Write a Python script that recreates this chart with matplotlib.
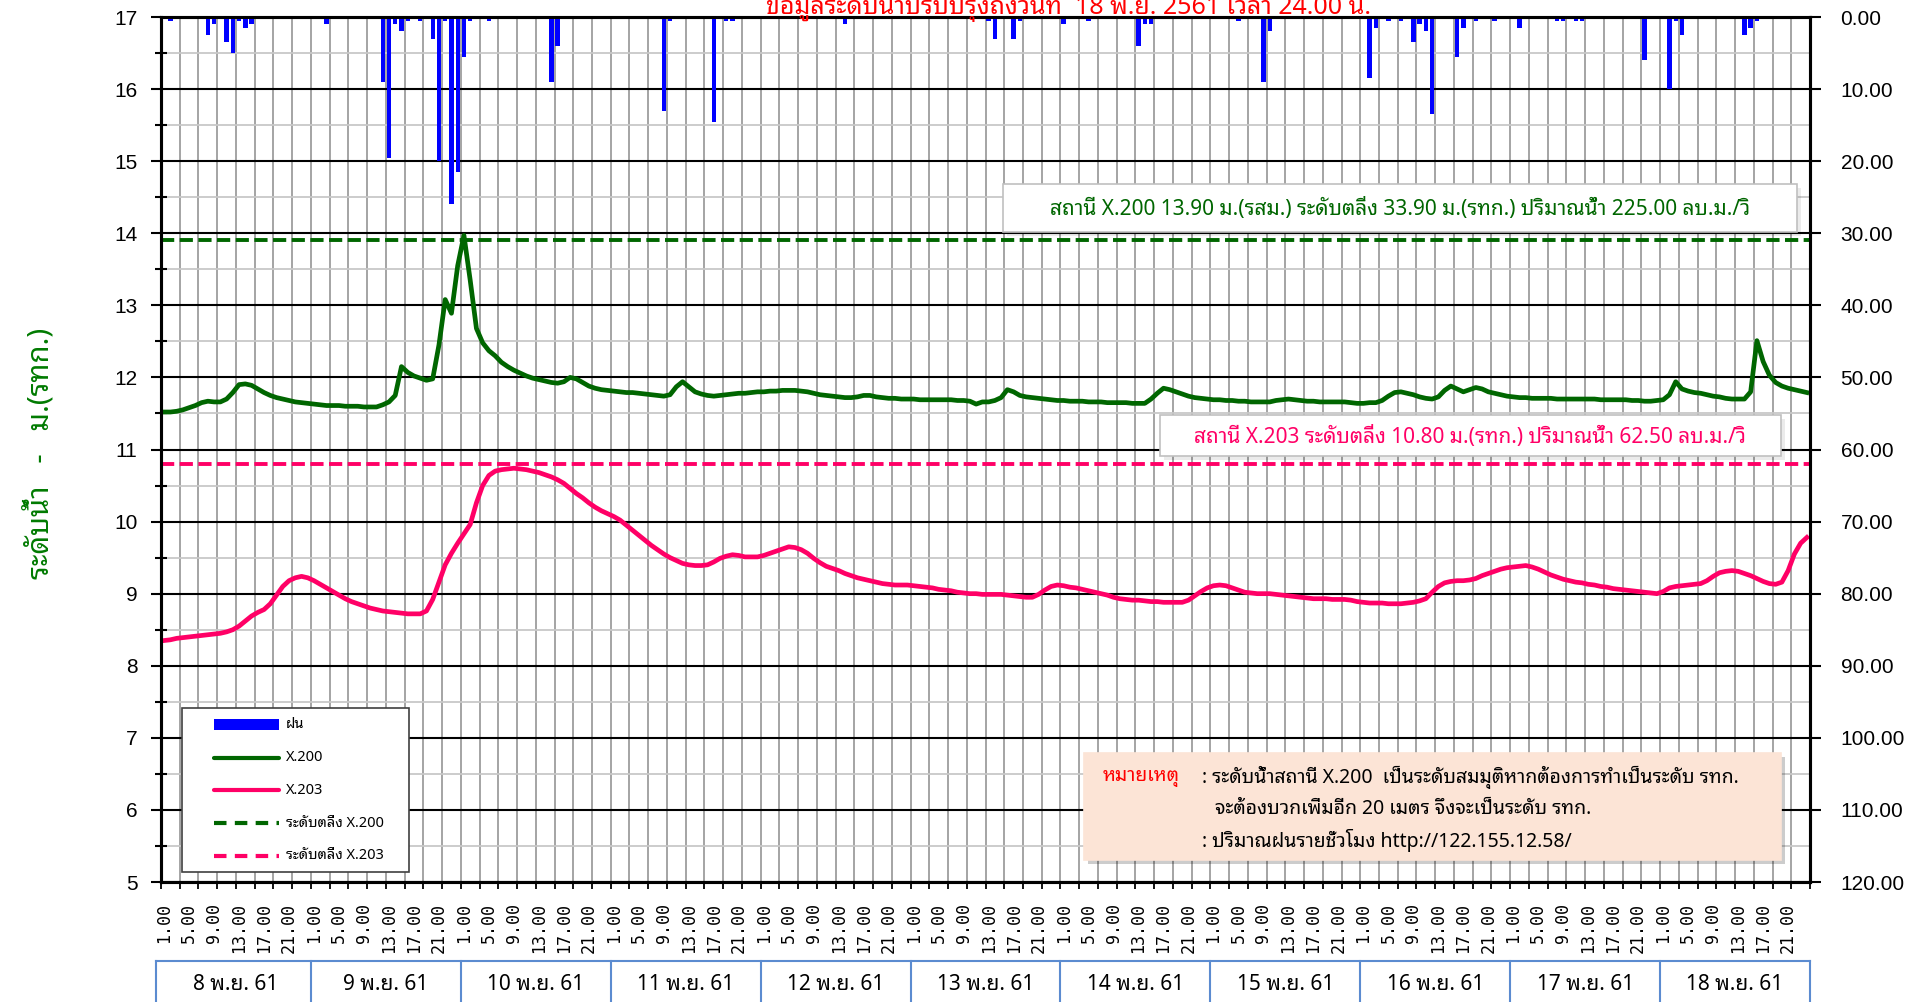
import numpy as np
import matplotlib.pyplot as plt
import matplotlib.transforms as mtransforms
from matplotlib import font_manager, ft2font
from matplotlib.patches import Rectangle
from matplotlib.lines import Line2D

W, H = 1923, 1002

# ---------------- data (hourly, 8-18 พ.ย. 61) ----------------
days = ['8 พ.ย. 61', '9 พ.ย. 61', '10 พ.ย. 61', '11 พ.ย. 61', '12 พ.ย. 61', '13 พ.ย. 61',
        '14 พ.ย. 61', '15 พ.ย. 61', '16 พ.ย. 61', '17 พ.ย. 61', '18 พ.ย. 61']
hour_labels = ['%d.00' % h for h in range(1, 25)] * len(days)

# ระดับน้ำ X.200 (ม.)
x200 = [
    11.52, 11.52, 11.53, 11.55, 11.58, 11.61, 11.65, 11.67, 11.66, 11.66, 11.70, 11.79,
    11.90, 11.91, 11.89, 11.84, 11.79, 11.75, 11.72, 11.70, 11.68, 11.66, 11.65, 11.64,
    11.63, 11.62, 11.61, 11.61, 11.61, 11.60, 11.60, 11.60, 11.59, 11.59, 11.59, 11.62,
    11.66, 11.75, 12.15, 12.07, 12.02, 11.99, 11.96, 11.98, 12.45, 13.08, 12.89, 13.55,
    13.97, 13.35, 12.68, 12.48, 12.37, 12.30, 12.21, 12.15, 12.10, 12.06, 12.02, 11.99,
    11.97, 11.95, 11.93, 11.92, 11.94, 12.00, 11.98, 11.93, 11.88, 11.85, 11.83, 11.82,
    11.81, 11.80, 11.79, 11.79, 11.78, 11.77, 11.76, 11.75, 11.74, 11.76, 11.87, 11.94,
    11.87, 11.80, 11.77, 11.75, 11.74, 11.75, 11.76, 11.77, 11.78, 11.78, 11.79, 11.80,
    11.80, 11.81, 11.81, 11.82, 11.82, 11.82, 11.81, 11.80, 11.78, 11.76, 11.75, 11.74,
    11.73, 11.72, 11.72, 11.73, 11.75, 11.75, 11.73, 11.72, 11.71, 11.71, 11.70, 11.70,
    11.70, 11.69, 11.69, 11.69, 11.69, 11.69, 11.69, 11.68, 11.68, 11.67, 11.63, 11.66,
    11.66, 11.68, 11.72, 11.83, 11.80, 11.75, 11.73, 11.72, 11.71, 11.70, 11.69, 11.68,
    11.68, 11.67, 11.67, 11.67, 11.66, 11.66, 11.66, 11.65, 11.65, 11.65, 11.65, 11.64,
    11.64, 11.64, 11.70, 11.78, 11.85, 11.83, 11.80, 11.77, 11.74, 11.72, 11.71, 11.70,
    11.69, 11.69, 11.68, 11.68, 11.67, 11.67, 11.66, 11.66, 11.66, 11.66, 11.68, 11.69,
    11.70, 11.69, 11.68, 11.67, 11.67, 11.66, 11.66, 11.66, 11.66, 11.66, 11.65, 11.64,
    11.64, 11.65, 11.65, 11.68, 11.74, 11.79, 11.80, 11.78, 11.76, 11.73, 11.71, 11.70,
    11.73, 11.82, 11.88, 11.84, 11.80, 11.83, 11.86, 11.84, 11.80, 11.78, 11.76, 11.74,
    11.73, 11.72, 11.72, 11.71, 11.71, 11.71, 11.71, 11.70, 11.70, 11.70, 11.70, 11.70,
    11.70, 11.70, 11.69, 11.69, 11.69, 11.69, 11.69, 11.68, 11.68, 11.67, 11.67, 11.68,
    11.69, 11.76, 11.94, 11.84, 11.81, 11.79, 11.78, 11.76, 11.74, 11.73, 11.71, 11.70,
    11.70, 11.70, 11.80, 12.51, 12.22, 12.03, 11.93, 11.88, 11.85, 11.83, 11.81, 11.79,
]

# ระดับน้ำ X.203 (ม.)
x203 = [
    8.35, 8.36, 8.38, 8.39, 8.40, 8.41, 8.42, 8.43, 8.44, 8.45, 8.47, 8.50,
    8.55, 8.62, 8.69, 8.74, 8.78, 8.86, 8.98, 9.10, 9.18, 9.22, 9.24, 9.22,
    9.18, 9.13, 9.08, 9.03, 8.98, 8.93, 8.89, 8.86, 8.83, 8.80, 8.78, 8.76,
    8.75, 8.74, 8.73, 8.72, 8.72, 8.72, 8.76, 8.92, 9.16, 9.40, 9.56, 9.70,
    9.83, 9.96, 10.26, 10.50, 10.64, 10.70, 10.72, 10.73, 10.74, 10.73, 10.72, 10.70,
    10.68, 10.65, 10.62, 10.58, 10.53, 10.46, 10.39, 10.33, 10.26, 10.20, 10.15, 10.11,
    10.07, 10.02, 9.95, 9.88, 9.81, 9.74, 9.67, 9.61, 9.55, 9.50, 9.46, 9.42,
    9.40, 9.39, 9.39, 9.40, 9.44, 9.49, 9.52, 9.54, 9.53, 9.51, 9.51, 9.51,
    9.53, 9.56, 9.59, 9.62, 9.65, 9.64, 9.61, 9.56, 9.49, 9.43, 9.38, 9.35,
    9.32, 9.28, 9.25, 9.22, 9.20, 9.18, 9.16, 9.14, 9.13, 9.12, 9.12, 9.12,
    9.11, 9.10, 9.09, 9.08, 9.06, 9.05, 9.04, 9.02, 9.01, 9.00, 9.00, 8.99,
    8.99, 8.99, 8.99, 8.98, 8.97, 8.96, 8.95, 8.95, 8.99, 9.05, 9.10, 9.12,
    9.11, 9.09, 9.08, 9.06, 9.04, 9.02, 9.00, 8.98, 8.95, 8.93, 8.92, 8.91,
    8.91, 8.90, 8.89, 8.89, 8.88, 8.88, 8.88, 8.88, 8.91, 8.97, 9.03, 9.08,
    9.11, 9.12, 9.11, 9.08, 9.05, 9.02, 9.01, 9.00, 9.00, 9.00, 8.99, 8.98,
    8.97, 8.96, 8.95, 8.94, 8.93, 8.93, 8.93, 8.92, 8.92, 8.92, 8.91, 8.89,
    8.88, 8.87, 8.87, 8.87, 8.86, 8.86, 8.86, 8.87, 8.88, 8.90, 8.93, 9.02,
    9.10, 9.15, 9.17, 9.18, 9.18, 9.19, 9.21, 9.25, 9.28, 9.31, 9.34, 9.36,
    9.37, 9.38, 9.39, 9.37, 9.34, 9.30, 9.26, 9.23, 9.20, 9.18, 9.16, 9.15,
    9.13, 9.12, 9.10, 9.09, 9.07, 9.06, 9.05, 9.04, 9.03, 9.02, 9.01, 9.00,
    9.03, 9.08, 9.10, 9.11, 9.12, 9.13, 9.14, 9.18, 9.24, 9.29, 9.31, 9.32,
    9.31, 9.28, 9.25, 9.21, 9.17, 9.14, 9.13, 9.16, 9.32, 9.55, 9.70, 9.78,
]

# ฝนรายชั่วโมง (มม.)
rain = [
    0, 0.5, 0, 0, 0, 0, 0, 2.5, 1.0, 0, 3.5, 5.0, 0.5, 1.5, 1.0, 0, 0, 0, 0, 0, 0, 0, 0, 0,
    0, 0, 1.0, 0, 0, 0, 0, 0, 0, 0, 0, 9.0, 19.5, 1.0, 2.0, 0.5, 0, 0.5, 0, 3.0, 20.0, 0.5, 26.0, 21.5,
    5.5, 0.5, 0, 0, 0.5, 0, 0, 0, 0, 0, 0, 0, 0, 0, 9.0, 4.0, 0, 0, 0, 0, 0, 0, 0, 0,
    0, 0, 0, 0, 0, 0, 0, 0, 13.0, 0.5, 0, 0, 0, 0, 0, 0, 14.5, 0, 0.5, 0.5, 0, 0, 0, 0,
    0, 0, 0, 0, 0, 0, 0, 0, 0, 0, 0, 0, 0, 1.0, 0, 0, 0, 0, 0, 0, 0, 0, 0, 0,
    0, 0, 0, 0, 0, 0, 0, 0, 0, 0, 0, 0, 0.5, 3.0, 0, 0, 3.0, 0.5, 0, 0, 0, 0, 0, 0,
    1.0, 0, 0, 0, 0.5, 0, 0, 0, 0, 0, 0, 0, 4.0, 1.0, 1.0, 0, 0, 0, 0, 0, 0, 0, 0, 0,
    0, 0, 0, 0, 0.5, 0, 0, 0, 9.0, 2.0, 0, 0, 0, 0, 0, 0, 0, 0, 0, 0, 0, 0, 0, 0,
    0, 8.5, 1.5, 0, 0.5, 0, 0.5, 0, 3.5, 1.0, 2.0, 13.5, 0, 0, 0, 5.5, 1.5, 0, 0.5, 0, 0, 0.5, 0, 0,
    0, 1.5, 0, 0, 0, 0, 0, 0.5, 0.5, 0, 0.5, 0.5, 0, 0, 0, 0, 0, 0, 0, 0, 0, 6.0, 0, 0,
    0, 10.0, 0.5, 2.5, 0, 0, 0, 0, 0, 0, 0, 0, 0, 2.5, 1.5, 0.5, 0, 0, 0, 0, 0, 0, 0, 0,
]

bank_x200 = 13.90
bank_x203 = 10.80

GREEN = '#006600'
PINK = '#ff0066'
BLUE = '#0000ff'


def thai_fonts():
    names = []
    for f in font_manager.fontManager.ttflist:
        try:
            if 0x0E01 in ft2font.FT2Font(f.fname).get_charmap():
                names.append(f.name)
        except Exception:
            pass
    return sorted(set(names))


found = thai_fonts()
if 'Noto Sans Thai Looped' in found:
    THAI = 'Noto Sans Thai Looped'
else:
    THAI = found[0] if found else 'DejaVu Sans'
plt.rcParams['font.family'] = [THAI, 'Noto Sans', 'DejaVu Sans']


def fx(px):
    return px / W


def fy(py):
    return 1 - py / H


def box(x0, y0, x1, y1, face, edge, shadow=0.15):
    if shadow:
        fig.add_artist(Rectangle((fx(x0 + 4), fy(y1 + 4)), (x1 - x0) / W, (y1 - y0) / H,
                                 transform=fig.transFigure, facecolor='black', alpha=shadow, lw=0))
    fig.add_artist(Rectangle((fx(x0), fy(y1)), (x1 - x0) / W, (y1 - y0) / H,
                             transform=fig.transFigure, facecolor=face, edgecolor=edge, lw=1.2))


fig = plt.figure(figsize=(W / 100, H / 100), dpi=100)
ax = fig.add_axes([fx(161), fy(882), (1810 - 161) / W, (882 - 17) / H])
hours = np.arange(len(x200))

ax.set_xlim(-0.5, len(hours) - 0.5)
ax.set_ylim(5, 17)
ax.set_yticks(np.arange(5, 18, 1))
ax.set_yticks(np.arange(5.5, 17, 1), minor=True)
ax.set_yticklabels([str(v) for v in range(5, 18)], family='Liberation Sans', fontsize=15)
ax.yaxis.grid(True, which='major', color='black', lw=1.5)
ax.yaxis.grid(True, which='minor', color='#c8c8c8', lw=1.3)
ax.set_xticks(hours[::4])
ax.set_xticklabels(hour_labels[::4], rotation=90, family='DejaVu Sans Mono', fontsize=12)
ax.set_xticks(np.arange(-0.5, len(hours), 3), minor=True)
ax.xaxis.grid(True, which='minor', color='#8c8c8c', lw=1.1)
ax.set_axisbelow(True)
ax.tick_params(axis='x', which='major', length=0, pad=15)
ax.tick_params(axis='x', which='minor', length=5, width=1.3, direction='out')
ax.tick_params(axis='y', which='major', length=7, width=1.5, direction='out', pad=10)
ax.tick_params(axis='y', which='minor', length=9, width=1.5, direction='inout')
for s in ax.spines.values():
    s.set_linewidth(2.2)

ax.plot(hours, x200, color=GREEN, lw=3.4, solid_joinstyle='round', zorder=4)
ax.plot(hours, x203, color=PINK, lw=3.4, solid_joinstyle='round', zorder=4)
ax.axhline(bank_x200, color=GREEN, lw=2.8, dashes=(3.4, 1.4), zorder=3)
ax.axhline(bank_x203, color=PINK, lw=2.8, dashes=(3.4, 1.4), zorder=3)

ax2 = ax.twinx()
ax2.set_ylim(120, 0)
ax2.set_yticks(np.arange(0, 121, 10))
ax2.set_yticklabels(['%.2f' % v for v in range(0, 121, 10)], family='Liberation Sans', fontsize=15)
ax2.tick_params(axis='y', length=8, width=1.5, direction='out', pad=14)
ax2.bar(hours, rain, width=0.7, color=BLUE, zorder=2)
for s in ax2.spines.values():
    s.set_linewidth(2.2)

# title (cut at top, as in the source) and axis label
fig.text(fx(1068), fy(14), 'ข้อมูลระดับน้ำปรับปรุงถึงวันที่  18 พ.ย. 2561 เวลา 24.00 น.',
         ha='center', va='baseline', color='red', fontsize=18)
fig.text(fx(41), fy(453), 'ระดับน้ำ   -   ม.(รทก.)', rotation=90, ha='center', va='center',
         color='#007a00', fontsize=21, fontweight='bold')

# station boxes
box(1003, 184, 1797, 232, 'white', '#c0c0c0', 0.08)
fig.text(fx(1400), fy(209), 'สถานี X.200 13.90 ม.(รสม.) ระดับตลิ่ง 33.90 ม.(รทก.) ปริมาณน้ำ 225.00 ลบ.ม./วิ',
         ha='center', va='center', color=GREEN, fontsize=15)
box(1160, 415, 1781, 456, 'white', '#c0c0c0', 0.08)
fig.text(fx(1470), fy(437), 'สถานี X.203 ระดับตลิ่ง 10.80 ม.(รทก.) ปริมาณน้ำ 62.50 ลบ.ม./วิ',
         ha='center', va='center', color=PINK, fontsize=15)

# note box
box(1084, 753, 1781, 860, '#fce4d6', '#fce4d6', 0.2)
fig.text(fx(1103), fy(777), 'หมายเหตุ', ha='left', va='center', color='red', fontsize=14)
fig.text(fx(1202), fy(777), ': ระดับน้ำสถานี X.200  เป็นระดับสมมุติหากต้องการทำเป็นระดับ รทก.',
         ha='left', va='center', color='black', fontsize=14)
fig.text(fx(1215), fy(809), 'จะต้องบวกเพิ่มอีก 20 เมตร จึงจะเป็นระดับ รทก.',
         ha='left', va='center', color='black', fontsize=14)
fig.text(fx(1202), fy(841), ': ปริมาณฝนรายชั่วโมง http://122.155.12.58/',
         ha='left', va='center', color='black', fontsize=14)

# legend
box(182, 708, 409, 872, 'white', '#404040', 0)
legend_items = [('ฝน', BLUE, None), ('X.200', GREEN, '-'), ('X.203', PINK, '-'),
                ('ระดับตลิ่ง X.200', GREEN, '--'), ('ระดับตลิ่ง X.203', PINK, '--')]
for k, (label, c, style) in enumerate(legend_items):
    yy = 725 + k * 32.7
    if style is None:
        fig.add_artist(Rectangle((fx(214), fy(yy + 5)), 65 / W, 11 / H, transform=fig.transFigure,
                                 facecolor=c, lw=0))
    elif style == '-':
        fig.add_artist(Line2D([fx(214), fx(279)], [fy(yy), fy(yy)], transform=fig.transFigure,
                              color=c, lw=3, solid_capstyle='round'))
    else:
        fig.add_artist(Line2D([fx(214), fx(279)], [fy(yy), fy(yy)], transform=fig.transFigure,
                              color=c, lw=3, dashes=(3.0, 2.0)))
    fig.text(fx(286), fy(yy), label, ha='left', va='center', fontsize=10.5)

# date table under the axis
trans = mtransforms.blended_transform_factory(ax.transData, fig.transFigure)
ax.add_artist(Line2D([-1.3, len(hours) - 0.5], [fy(961), fy(961)], transform=trans,
                     color='#5b8bd0', lw=1.5, clip_on=False))
edges = [-1.3] + [24 * d - 0.5 for d in range(1, len(days) + 1)]
for e in edges:
    ax.add_artist(Line2D([e, e], [fy(961), 0], transform=trans, color='#5b8bd0', lw=1.5, clip_on=False))
for d, label in enumerate(days):
    ax.text(24 * d + 11.5, fy(984), label, transform=trans, ha='center', va='center', fontsize=15)

fig.savefig('out.png', dpi=100)
